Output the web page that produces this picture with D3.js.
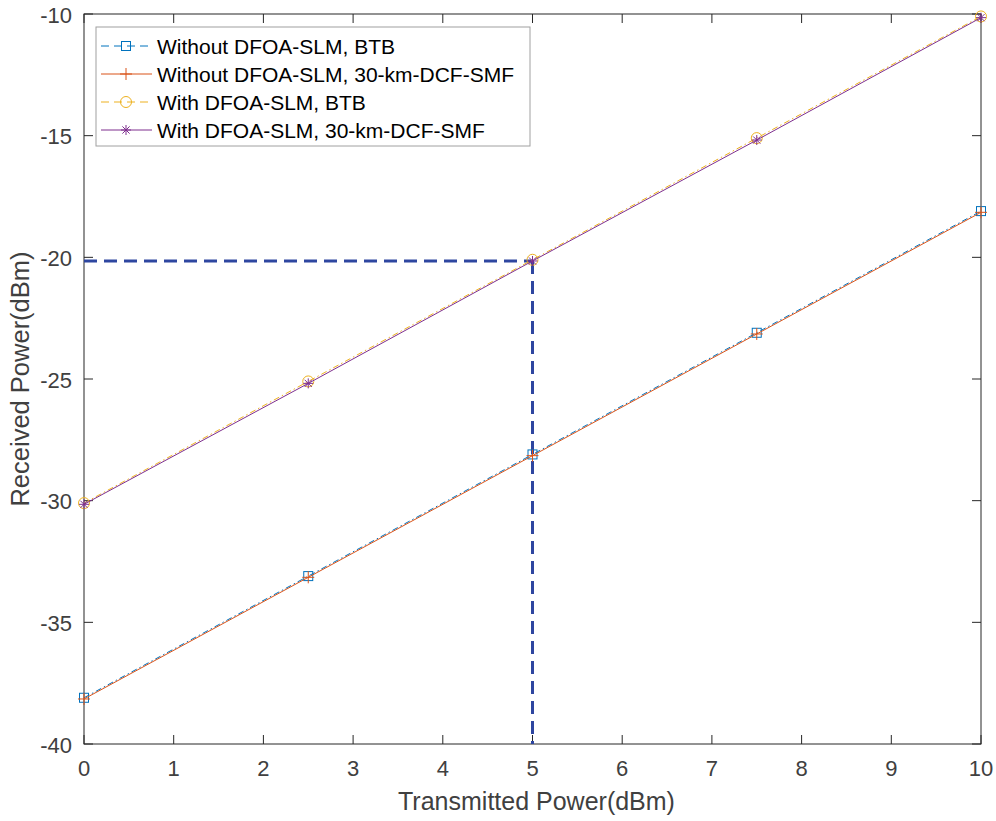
<!DOCTYPE html>
<html><head><meta charset="utf-8">
<script src="https://cdn.jsdelivr.net/npm/d3@7"></script>
<style>body{margin:0;background:#fff;} svg{display:block;font-family:"Liberation Sans",Arial,sans-serif;}</style>
</head><body><svg id="c" width="996" height="821"></svg>
<script>
const xValues = [0, 2.5, 5, 7.5, 10];
const withoutBTB = [-38.1, -33.1, -28.1, -23.1, -18.1];
const without30km = [-38.15, -33.15, -28.15, -23.15, -18.15];
const withBTB = [-30.1, -25.1, -20.1, -15.1, -10.1];
const with30km = [-30.15, -25.18, -20.15, -15.18, -10.15];
const xTicks = [0,1,2,3,4,5,6,7,8,9,10];
const yTicks = [-40,-35,-30,-25,-20,-15,-10];
const refPoint = {x: 5, y: -20.15};
const seriesNames = ["Without DFOA-SLM, BTB","Without DFOA-SLM, 30-km-DCF-SMF","With DFOA-SLM, BTB","With DFOA-SLM, 30-km-DCF-SMF"];
const seriesData = [withoutBTB, without30km, withBTB, with30km];
const colors = ["#0072BD","#D95319","#EDB120","#7E2F8E"];
const dashes = ["6,3,1.5,3", null, "6,3,1.5,3", null];
const markers = ["square","plus","circle","star"];

const svg = d3.select("#c");
const L=84, R=981, T=14, B=744;
const x = d3.scaleLinear().domain([0,10]).range([L,R]);
const y = d3.scaleLinear().domain([-40,-10]).range([B,T]);
const axisColor = "#262626", textColor="#404040";

svg.append("rect").attr("x",L).attr("y",T).attr("width",R-L).attr("height",B-T)
  .attr("fill","none").attr("stroke",axisColor).attr("stroke-width",1);

const tl = 9;
xTicks.forEach(t=>{
  const px = x(t);
  svg.append("line").attr("x1",px).attr("x2",px).attr("y1",B).attr("y2",B-tl).attr("stroke",axisColor);
  svg.append("line").attr("x1",px).attr("x2",px).attr("y1",T).attr("y2",T+tl).attr("stroke",axisColor);
  svg.append("text").attr("x",px).attr("y",B+32).attr("text-anchor","middle")
    .attr("font-size",22).attr("fill",textColor).text(t);
});
yTicks.forEach(t=>{
  const py = y(t);
  svg.append("line").attr("x1",L).attr("x2",L+tl).attr("y1",py).attr("y2",py).attr("stroke",axisColor);
  svg.append("line").attr("x1",R).attr("x2",R-tl).attr("y1",py).attr("y2",py).attr("stroke",axisColor);
  svg.append("text").attr("x",L-12).attr("y",py+8.5).attr("text-anchor","end")
    .attr("font-size",22).attr("fill",textColor).text(t);
});

svg.append("text").attr("x",(L+R)/2+4).attr("y",810).attr("text-anchor","middle")
  .attr("font-size",25).attr("fill",textColor).text("Transmitted Power(dBm)");
svg.append("text").attr("transform",`translate(29,${(T+B)/2}) rotate(-90)`).attr("text-anchor","middle")
  .attr("font-size",25.5).attr("fill",textColor).text("Received Power(dBm)");

const refG = svg.append("g").attr("stroke","#2E46A0").attr("stroke-width",3).attr("stroke-dasharray","13,7").attr("fill","none");
refG.append("line").attr("x1",x(0)).attr("x2",x(refPoint.x)).attr("y1",y(refPoint.y)).attr("y2",y(refPoint.y));
refG.append("line").attr("x1",x(refPoint.x)).attr("x2",x(refPoint.x)).attr("y1",y(refPoint.y)).attr("y2",y(-40));

function drawMarker(g, type, cx, cy, color){
  const s = 4.5;
  if(type==="square"){
    g.append("rect").attr("x",cx-s).attr("y",cy-s).attr("width",2*s).attr("height",2*s)
      .attr("fill","none").attr("stroke",color).attr("stroke-width",1);
  } else if(type==="circle"){
    g.append("circle").attr("cx",cx).attr("cy",cy).attr("r",5.5).attr("fill","none").attr("stroke",color).attr("stroke-width",1);
  } else if(type==="plus"){
    g.append("line").attr("x1",cx-6).attr("x2",cx+6).attr("y1",cy).attr("y2",cy).attr("stroke",color);
    g.append("line").attr("x1",cx).attr("x2",cx).attr("y1",cy-6).attr("y2",cy+6).attr("stroke",color);
  } else if(type==="star"){
    const r = 5;
    g.append("line").attr("x1",cx-r).attr("x2",cx+r).attr("y1",cy).attr("y2",cy).attr("stroke",color);
    g.append("line").attr("x1",cx).attr("x2",cx).attr("y1",cy-r).attr("y2",cy+r).attr("stroke",color);
    const d = r*0.72;
    g.append("line").attr("x1",cx-d).attr("x2",cx+d).attr("y1",cy-d).attr("y2",cy+d).attr("stroke",color);
    g.append("line").attr("x1",cx-d).attr("x2",cx+d).attr("y1",cy+d).attr("y2",cy-d).attr("stroke",color);
  }
}

const line = d3.line().x((d,i)=>x(xValues[i])).y(d=>y(d));
seriesData.forEach((vals,k)=>{
  const g = svg.append("g");
  const p = g.append("path").attr("d",line(vals)).attr("fill","none").attr("stroke",colors[k]).attr("stroke-width",1);
  if(dashes[k]) p.attr("stroke-dasharray",dashes[k]);
  vals.forEach((v,i)=>drawMarker(g, markers[k], x(xValues[i]), y(v), colors[k]));
});

const lg = svg.append("g");
lg.append("rect").attr("x",96).attr("y",27).attr("width",434).attr("height",119)
  .attr("fill","#fff").attr("stroke","#a0a0a0").attr("stroke-width",1);
const rowY = [46,74,102,130];
seriesNames.forEach((n,k)=>{
  const yy = rowY[k];
  const l = lg.append("line").attr("x1",101).attr("x2",152).attr("y1",yy).attr("y2",yy).attr("stroke",colors[k]).attr("stroke-width",1);
  if(dashes[k]) l.attr("stroke-dasharray","8,5");
  drawMarker(lg, markers[k], 126, yy, colors[k]);
  lg.append("text").attr("x",157).attr("y",yy+7.5).attr("font-size",21).attr("fill","#000").text(n);
});
</script></body></html>
